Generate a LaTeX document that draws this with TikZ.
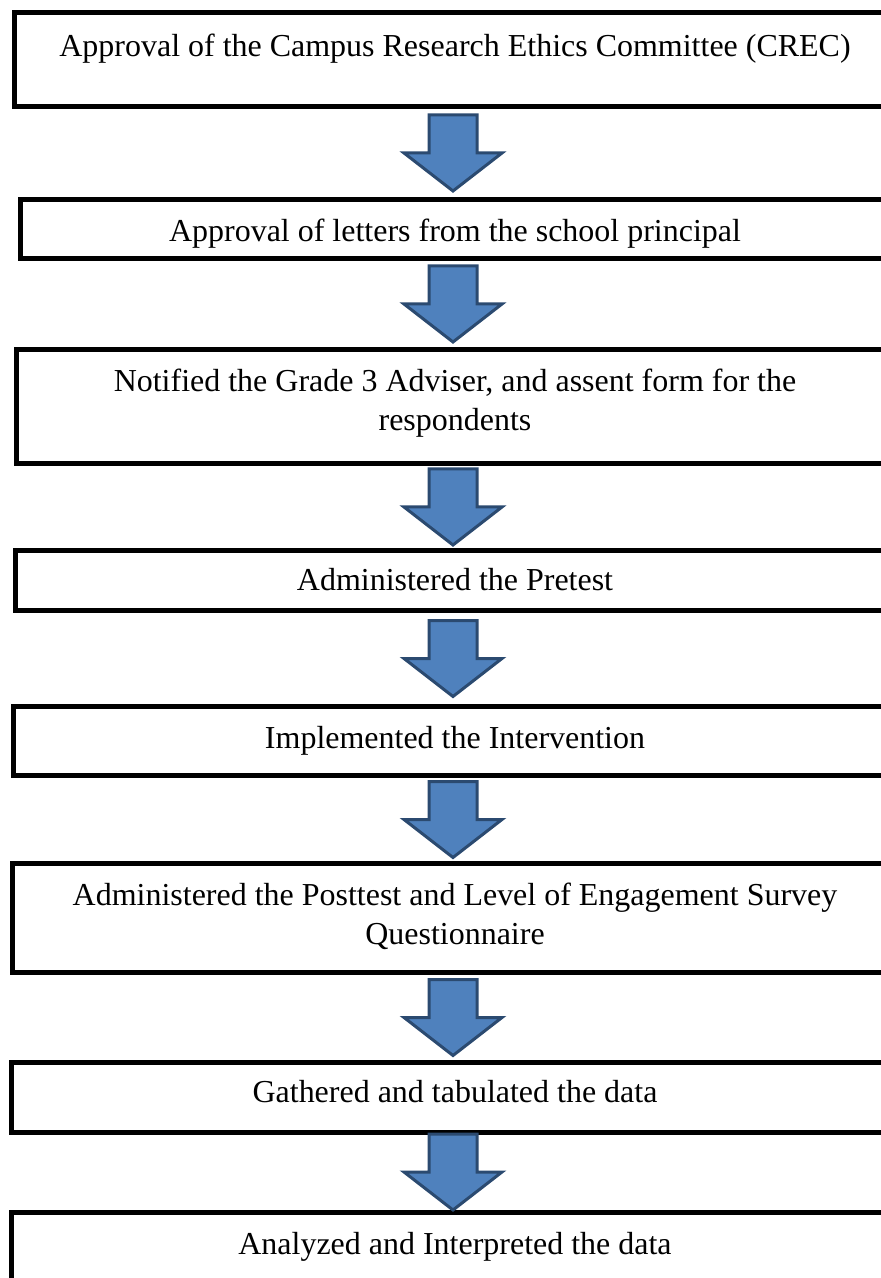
\documentclass[tikz,border=0pt]{standalone}
\usepackage{fontspec}
\setmainfont{Liberation Serif}
\usetikzlibrary{positioning,calc}
\definecolor{arrowfill}{HTML}{4F81BD}
\definecolor{arrowline}{HTML}{2B4A70}

\begin{document}
\begin{tikzpicture}
      [x=0.02cm, y=-0.02cm,
       stepbox/.style={
           rectangle,
           draw=black, line width=0.1cm,
           inner sep=0pt, outer sep=0pt,
           anchor=north
         },
       steptext/.style={
           font=\fontsize{18.2}{22.2}\selectfont,
           align=center,
           anchor=base
         },
       flowarrow/.pic={
           \draw [draw=arrowline, fill=arrowfill, line width=0.06cm, miter limit=4]
             (-24,-38) -- (24,-38) -- (24,0) -- (49,0) -- (0,38)
             -- (-49,0) -- (-24,0) -- cycle;
         },
       ]
    \useasboundingbox (0,0) rectangle (881,1278);
    \clip (0,0) rectangle (881,1278);

    % the steps, top to bottom
    \node [stepbox, minimum width=17.56cm, minimum height=1.90cm] (b1) at (453,12) {};
    \node [stepbox, minimum width=17.32cm, minimum height=1.20cm] (b2) at (453,199) {};
    \node [stepbox, minimum width=17.48cm, minimum height=2.30cm] (b3) at (453,349) {};
    \node [stepbox, minimum width=17.52cm, minimum height=1.22cm] (b4) at (453,550) {};
    \node [stepbox, minimum width=17.60cm, minimum height=1.40cm] (b5) at (453,706) {};
    \node [stepbox, minimum width=17.64cm, minimum height=2.20cm] (b6) at (453,863) {};
    \node [stepbox, minimum width=17.68cm, minimum height=1.40cm] (b7) at (453,1062) {};
    \node [stepbox, minimum width=17.68cm, minimum height=2.00cm] (b8) at (453,1212) {};

    % base of a two-line text is its last line
    \node [steptext] (t1) at ($(b1.north)+(2,44)$)
      {Approval of the Campus Research Ethics Committee (CREC)};
    \node [steptext] (t2) at ($(b2.north)+(2,42)$)
      {Approval of letters from the school principal};
    \node [steptext] (t3) at ($(b3.north)+(2,81)$)
      {Notified the Grade 3 Adviser, and assent form for the\\ respondents};
    \node [steptext] (t4) at ($(b4.north)+(2,40)$)
      {Administered the Pretest};
    \node [steptext] (t5) at ($(b5.north)+(2,42)$)
      {Implemented the Intervention};
    \node [steptext] (t6) at ($(b6.north)+(2,81)$)
      {Administered the Posttest and Level of Engagement Survey\\ Questionnaire};
    \node [steptext] (t7) at ($(b7.north)+(2,40)$)
      {Gathered and tabulated the data};
    \node [steptext] (t8) at ($(b8.north)+(2,42)$)
      {Analyzed and Interpreted the data};

    % block arrows between the steps
    \foreach \from/\to in {b1/b2, b2/b3, b3/b4, b4/b5, b5/b6, b6/b7, b7/b8}
      \pic at ($(\from.south)!0.5!(\to.north)$) {flowarrow};

  \end{tikzpicture}
\end{document}
